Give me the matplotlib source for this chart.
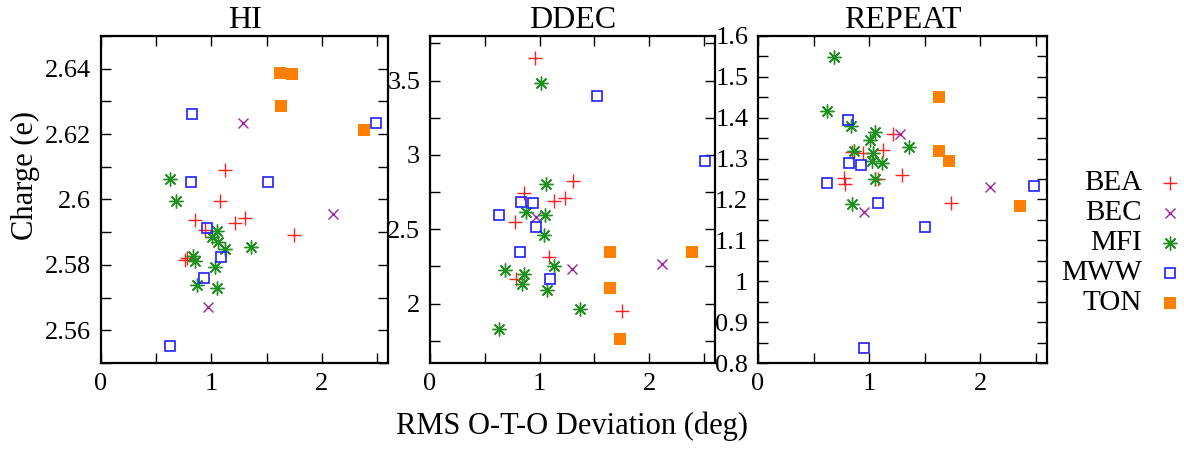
import matplotlib
matplotlib.use("Agg")
import matplotlib.pyplot as plt
from matplotlib.ticker import MultipleLocator, FuncFormatter

plt.rcParams['font.family'] = ['Liberation Serif', 'DejaVu Serif']

# (RMS O-T-O deviation, charge), per method and framework
hi_bea = [(1.127, 2.6091), (1.079, 2.5994), (1.300, 2.5944), (0.848, 2.5937), (1.218, 2.5929),
          (0.945, 2.5907), (1.748, 2.5890), (0.764, 2.5814), (0.782, 2.5822)]
hi_bec = [(1.285, 2.6235), (2.106, 2.5957), (0.967, 2.5671)]
hi_mfi = [(0.624, 2.6064), (0.679, 2.5994), (1.048, 2.5904), (1.003, 2.5885), (1.061, 2.5870),
          (1.127, 2.5850), (1.358, 2.5856), (0.830, 2.5826), (0.848, 2.5813), (1.030, 2.5793),
          (0.870, 2.5739), (1.055, 2.5730)]
hi_mww = [(0.821, 2.6261), (2.488, 2.6234), (0.815, 2.6055), (1.509, 2.6053), (0.958, 2.5912),
          (1.085, 2.5823), (0.930, 2.5760), (0.624, 2.5552)]
hi_ton = [(1.620, 2.6388), (1.727, 2.6385), (1.633, 2.6287), (2.379, 2.6214)]

ddec_bea = [(0.957, 3.654), (1.307, 2.825), (0.854, 2.741), (1.134, 2.689), (1.231, 2.709),
            (0.772, 2.551), (1.088, 2.315), (0.787, 2.166), (1.754, 1.950)]
ddec_bec = [(0.967, 2.585), (1.295, 2.233), (2.116, 2.266)]
ddec_mfi = [(1.012, 3.487), (1.061, 2.805), (0.875, 2.618), (1.052, 2.594), (1.040, 2.462),
            (1.131, 2.255), (0.684, 2.228), (0.857, 2.201), (0.839, 2.132), (1.070, 2.090),
            (1.365, 1.961), (0.629, 1.831)]
ddec_mww = [(1.520, 3.394), (2.505, 2.959), (0.827, 2.680), (0.939, 2.676), (0.629, 2.594),
            (0.967, 2.516), (0.818, 2.344), (1.091, 2.168)]
ddec_ton = [(1.641, 2.344), (2.389, 2.350), (1.641, 2.103), (1.736, 1.762)]

rep_bea = [(1.213, 1.360), (1.129, 1.320), (0.946, 1.313), (0.848, 1.315), (0.772, 1.252),
           (0.784, 1.239), (1.081, 1.251), (1.297, 1.259), (1.736, 1.192)]
rep_bec = [(1.282, 1.360), (0.958, 1.170), (2.090, 1.231)]
rep_mfi = [(0.682, 1.549), (0.622, 1.416), (0.838, 1.380), (1.054, 1.365), (1.009, 1.345),
           (1.354, 1.329), (0.865, 1.319), (1.039, 1.313), (1.024, 1.293), (1.120, 1.289),
           (1.057, 1.249), (0.850, 1.188)]
rep_mww = [(0.814, 1.394), (0.823, 1.289), (0.931, 1.285), (0.625, 1.240), (1.084, 1.192),
           (1.505, 1.133), (0.958, 0.836), (2.480, 1.234)]
rep_ton = [(1.625, 1.451), (1.625, 1.319), (1.715, 1.294), (2.360, 1.185)]

titles = ["HI", "DDEC", "REPEAT"]
names = ["BEA", "BEC", "MFI", "MWW", "TON"]
panels = [[hi_bea, hi_bec, hi_mfi, hi_mww, hi_ton],
          [ddec_bea, ddec_bec, ddec_mfi, ddec_mww, ddec_ton],
          [rep_bea, rep_bec, rep_mfi, rep_mww, rep_ton]]
ylims = [(2.55, 2.65), (1.6, 3.8), (0.8, 1.6)]
ytick_step = [0.01, 0.25, 0.05]
ylabel_step = [0.02, 0.5, 0.1]

# marker styles, gnuplot-ish
styles = [
    dict(marker='+', ms=10, mew=1.0, color='#ff2020', mfc='none'),
    dict(marker='x', ms=7.5, mew=1.0, color='#a020a0', mfc='none'),
    dict(marker=(8, 2, 0), ms=10, mew=1.0, color='#209020', mfc='none'),
    dict(marker='s', ms=7.5, mew=1.2, color='#2020ff', mfc='none'),
    dict(marker='s', ms=8.5, mew=0, color='#ff8000', mfc='#ff8000'),
]

W, H = 1184, 449
fig = plt.figure(figsize=(W / 100, H / 100), dpi=100)
lefts = [101, 430, 758]
widths = [287, 285, 289]
bottom = 1 - 363 / H
height = 327 / H

axes = []
for i in range(3):
    ax = fig.add_axes([lefts[i] / W, bottom, widths[i] / W, height])
    axes.append(ax)
    for data, name, st in zip(panels[i], names, styles):
        xs = [p[0] for p in data]
        ys = [p[1] for p in data]
        ax.plot(xs, ys, linestyle='none', label=name, **st)
    ax.set_xlim(0, 2.6)
    ax.set_ylim(*ylims[i])
    ax.xaxis.set_major_locator(MultipleLocator(0.5))
    ax.xaxis.set_major_formatter(FuncFormatter(
        lambda v, p: '%g' % round(v) if abs(v - round(v)) < 1e-6 else ''))
    step = ylabel_step[i]
    ax.yaxis.set_major_locator(MultipleLocator(ytick_step[i]))
    ax.yaxis.set_major_formatter(FuncFormatter(
        lambda v, p, s=step: '%g' % round(v, 4) if abs(v / s - round(v / s)) < 1e-6 else ''))
    ax.tick_params(direction='in', length=7, width=1.0, top=True, right=True,
                   labelsize=19, pad=7)
    for sp in ax.spines.values():
        sp.set_linewidth(1.6)
    ax.set_title(titles[i], fontsize=23, pad=6)

fig.text(25 / W, 1 - 176 / H, "Charge (e)", rotation=90, ha='center', va='center',
         fontsize=22)
axes[1].set_xlabel("RMS O-T-O Deviation (deg)", fontsize=22, labelpad=12)

# legend: right-aligned labels with the key to their right, like gnuplot
lax = fig.add_axes([1080 / W, 1 - 318 / H, 104 / W, 150 / H])
lax.set_xlim(0, 104)
lax.set_ylim(4.5, -0.5)
lax.axis('off')
for i, (name, st) in enumerate(zip(names, styles)):
    lax.text(62, i, name, ha='right', va='center', fontsize=21)
    lax.plot([90], [i], linestyle='none', clip_on=False, **st)

fig.savefig("out.png", dpi=100)
